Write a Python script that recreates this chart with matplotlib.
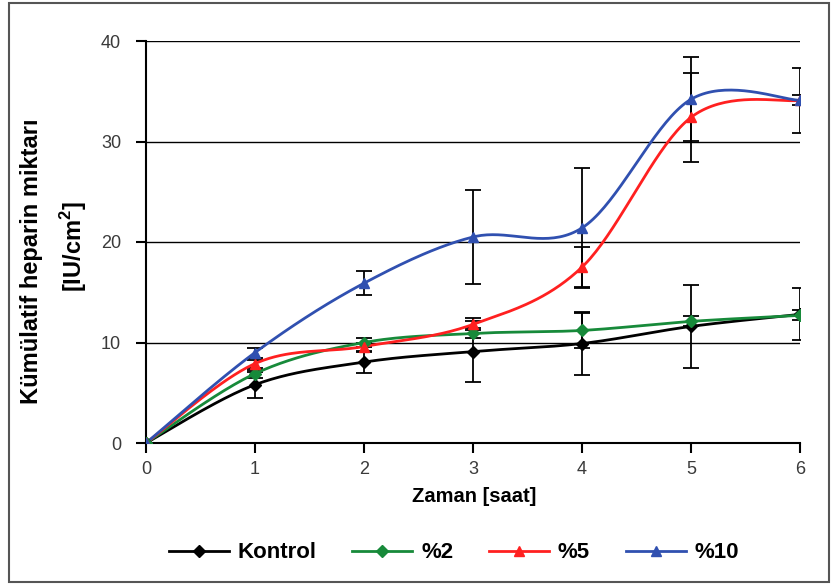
import numpy as np
import matplotlib
matplotlib.use("Agg")
import matplotlib.pyplot as plt
from matplotlib.patches import Rectangle

plt.rcParams['font.family'] = ['Liberation Sans', 'DejaVu Sans']
plt.rcParams['mathtext.fontset'] = 'custom'
plt.rcParams['mathtext.rm'] = 'Liberation Sans'
plt.rcParams['mathtext.bf'] = 'Liberation Sans:bold'

hours = [0, 1, 2, 3, 4, 5, 6]
kontrol = [0, 5.8, 8.05, 9.1, 9.9, 11.6, 12.8]
kontrol_err = [0, 1.3, 1.05, 3.0, 3.1, 4.1, 2.6]
p2 = [0, 6.9, 10.0, 10.9, 11.2, 12.1, 12.7]
p2_err = [0, 0.4, 0.4, 0.5, 1.7, 0.5, 0.5]
p5 = [0, 7.9, 9.6, 11.8, 17.5, 32.4, 34.1]
p5_err = [0, 0.4, 0.4, 0.6, 2.0, 4.4, 0.5]
p10 = [0, 9.0, 15.9, 20.5, 21.4, 34.2, 34.1]
p10_err = [0, 0.5, 1.2, 4.65, 6.0, 4.2, 3.25]

series = [
    ("Kontrol", kontrol, kontrol_err, "#000000", "D"),
    ("%2", p2, p2_err, "#178a3a", "D"),
    ("%5", p5, p5_err, "#ff2020", "^"),
    ("%10", p10, p10_err, "#3050b0", "^"),
]


def smooth(x, y, n=40):
    x = np.asarray(x, float)
    y = np.asarray(y, float)
    P = np.column_stack([x, y])
    Pe = np.vstack([P[0], P, P[-1]])
    out = []
    t = np.linspace(0, 1, n)
    for i in range(len(P) - 1):
        p0, p3 = Pe[i + 1], Pe[i + 2]
        c1 = p0 + (Pe[i + 2] - Pe[i]) / 6.0
        c2 = p3 - (Pe[i + 3] - Pe[i + 1]) / 6.0
        seg = ((1 - t) ** 3)[:, None] * p0 + (3 * (1 - t) ** 2 * t)[:, None] * c1 \
            + (3 * (1 - t) * t ** 2)[:, None] * c2 + (t ** 3)[:, None] * p3
        out.append(seg if i == 0 else seg[1:])
    s = np.vstack(out)
    return s[:, 0], s[:, 1]


fig = plt.figure(figsize=(8.32, 5.84), dpi=100)
ax = fig.add_axes([146 / 832, 1 - 443 / 584, 654 / 832, 402 / 584])

for yv in [10, 20, 30, 40]:
    ax.axhline(yv, color='black', lw=1.0, zorder=1)

handles = []
for name, vals, err, col, mk in series:
    ax.errorbar(hours, vals, yerr=err, fmt='none', ecolor='black',
                elinewidth=1.3, capsize=5.5, capthick=1.3, zorder=2)
    sx, sy = smooth(hours, vals)
    ax.plot(sx, sy, color=col, lw=2.0, zorder=3)
    ax.plot(hours, vals, linestyle='none', marker=mk, color=col,
            markersize=7 if mk == '^' else 6, zorder=4)
    h, = ax.plot([], [], color=col, lw=2.0, marker=mk,
                 markersize=7 if mk == '^' else 6)
    handles.append((h, name))

ax.set_xlim(0, 6)
ax.set_ylim(0, 40)
ax.set_xticks(hours)
ax.set_yticks([0, 10, 20, 30, 40])
for s in ['top', 'right']:
    ax.spines[s].set_visible(False)
for s in ['left', 'bottom']:
    ax.spines[s].set_linewidth(1.5)
    ax.spines[s].set_color('black')
ax.tick_params(axis='y', direction='out', length=7, width=1.5, pad=11,
               labelsize=13, labelcolor='#3a3a3a')
ax.tick_params(axis='x', direction='out', length=7, width=1.5, pad=6,
               labelsize=13, labelcolor='#3a3a3a')

fig.text(474 / 832, 1 - 497 / 584, "Zaman [saat]", ha='center', va='center',
         fontsize=14.5, fontweight='bold')
fig.text(32 / 832, 1 - 261 / 584, "Kümülatif heparin miktarı",
         ha='center', va='center', rotation=90, fontsize=17, fontweight='bold')
fig.text(74 / 832, 1 - 247 / 584, "[IU/cm$^\\mathbf{2}$]",
         ha='center', va='center', rotation=90, fontsize=17, fontweight='bold')

leg = fig.legend([h for h, _ in handles], [n for _, n in handles], loc='center',
                 bbox_to_anchor=(454 / 832, 1 - 553 / 584), ncol=4, frameon=False,
                 handlelength=2.7, columnspacing=1.6, handletextpad=0.4,
                 prop={'size': 16, 'weight': 'bold'})

fig.patches.append(Rectangle((8.5 / 832, 2 / 584), 820 / 832, 579 / 584,
                             transform=fig.transFigure, fill=False,
                             edgecolor='#555555', lw=1.5))

fig.savefig("out.png", dpi=100)
